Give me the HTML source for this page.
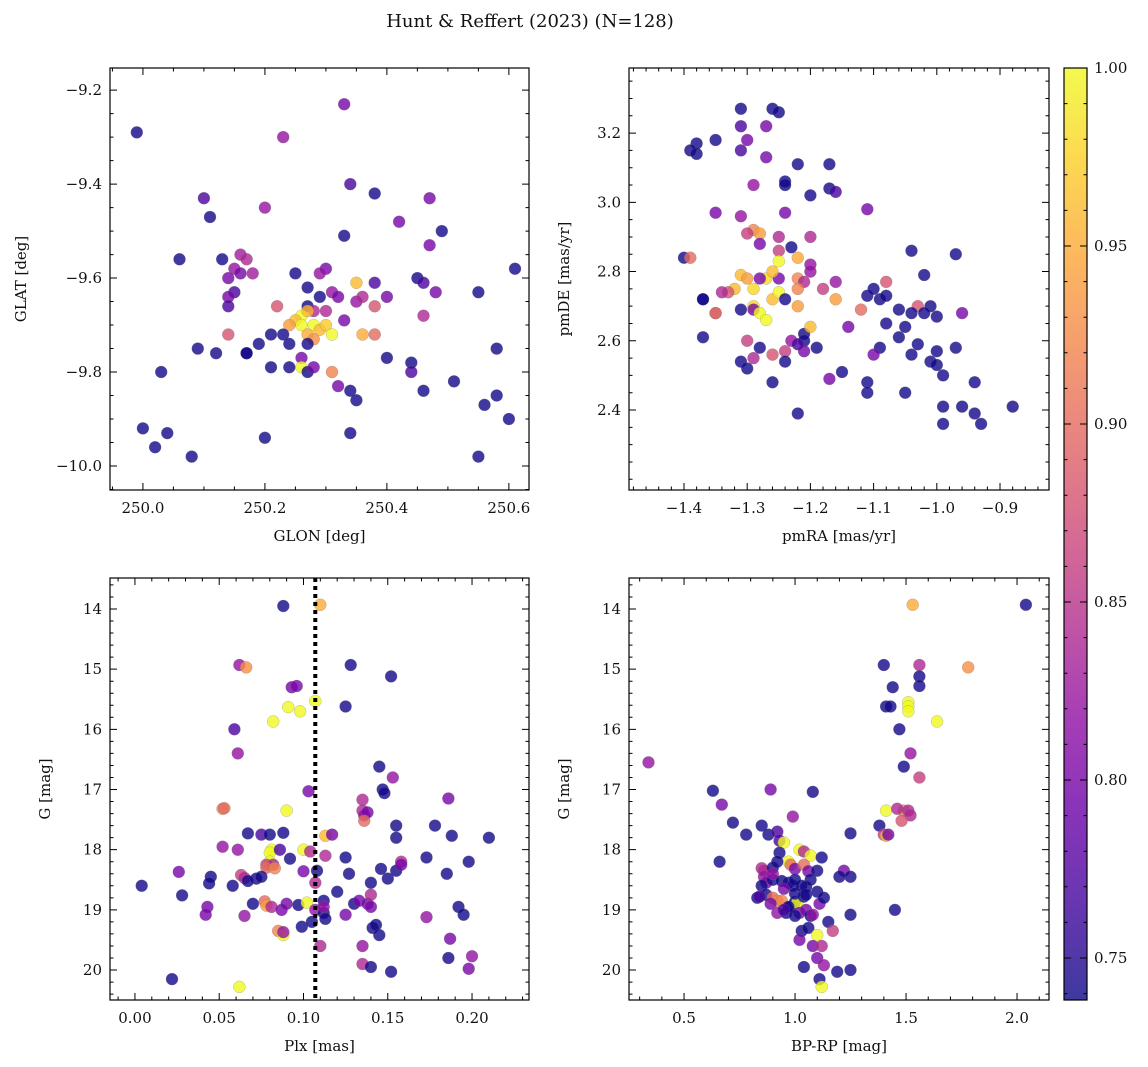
<!DOCTYPE html>
<html><head><meta charset="utf-8"><style>
body{margin:0;background:#fff}
svg{display:block;font-family:"DejaVu Serif","Liberation Serif",serif}
</style></head><body>
<svg id="fig" width="1148" height="1067" viewBox="0 0 1148 1067" xmlns="http://www.w3.org/2000/svg">
<rect width="1148" height="1067" fill="#fff"/>
<text x="530" y="27" text-anchor="middle" font-size="18" fill="#111">Hunt &amp; Reffert (2023) (N=128)</text>
<defs><linearGradient id="plasma" x1="0" y1="1" x2="0" y2="0">
<stop offset="0" stop-color="#0d0887"/><stop offset="0.1" stop-color="#41049d"/><stop offset="0.2" stop-color="#6a00a8"/><stop offset="0.3" stop-color="#8f0da4"/><stop offset="0.4" stop-color="#b12a90"/><stop offset="0.5" stop-color="#cc4778"/><stop offset="0.6" stop-color="#e16462"/><stop offset="0.7" stop-color="#f2844b"/><stop offset="0.8" stop-color="#fca636"/><stop offset="0.9" stop-color="#fcce25"/><stop offset="1" stop-color="#f0f921"/></linearGradient></defs>
</svg>
<script>
// ---- data ----
const glonGlat = [[249.99,-9.29,.74],[250.23,-9.30,.82],[250.33,-9.23,.80],[250.34,-9.40,.77],[250.38,-9.42,.74],[250.10,-9.43,.77],[250.11,-9.47,.74],[250.20,-9.45,.82],[250.47,-9.43,.80],[250.49,-9.50,.74],[250.42,-9.48,.80],[250.33,-9.51,.74],[250.47,-9.53,.80],[250.06,-9.56,.74],[250.13,-9.56,.74],[250.16,-9.55,.83],[250.17,-9.56,.84],[250.15,-9.58,.82],[250.16,-9.59,.80],[250.18,-9.59,.83],[250.14,-9.60,.80],[250.15,-9.63,.77],[250.14,-9.64,.80],[250.14,-9.66,.77],[250.14,-9.72,.88],[250.25,-9.59,.74],[250.30,-9.58,.80],[250.29,-9.59,.82],[250.35,-9.61,.96],[250.38,-9.61,.77],[250.27,-9.62,.74],[250.29,-9.64,.74],[250.31,-9.63,.82],[250.32,-9.64,.80],[250.35,-9.65,.82],[250.36,-9.64,.84],[250.38,-9.66,.88],[250.40,-9.64,.80],[250.45,-9.60,.74],[250.46,-9.61,.77],[250.48,-9.63,.80],[250.55,-9.63,.74],[250.61,-9.58,.74],[250.22,-9.66,.88],[250.27,-9.66,.74],[250.28,-9.67,.84],[250.30,-9.67,.84],[250.26,-9.68,1.0],[250.27,-9.67,.96],[250.25,-9.69,.96],[250.24,-9.70,.94],[250.26,-9.70,1.0],[250.28,-9.70,1.0],[250.29,-9.71,.96],[250.30,-9.70,.97],[250.31,-9.72,1.0],[250.27,-9.72,.95],[250.28,-9.73,.93],[250.33,-9.69,.80],[250.36,-9.72,.95],[250.38,-9.72,.90],[250.46,-9.68,.84],[250.21,-9.72,.74],[250.23,-9.72,.74],[250.24,-9.74,.74],[250.27,-9.74,.74],[250.19,-9.74,.74],[250.17,-9.76,.74],[250.12,-9.76,.74],[250.09,-9.75,.74],[250.21,-9.79,.74],[250.24,-9.79,.74],[250.26,-9.77,.80],[250.26,-9.79,1.0],[250.27,-9.80,.74],[250.28,-9.79,.80],[250.31,-9.80,.92],[250.32,-9.83,.80],[250.34,-9.84,.74],[250.35,-9.86,.74],[250.40,-9.77,.74],[250.44,-9.78,.74],[250.44,-9.80,.77],[250.46,-9.84,.74],[250.51,-9.82,.74],[250.58,-9.75,.74],[250.58,-9.85,.74],[250.56,-9.87,.74],[250.60,-9.90,.74],[250.03,-9.80,.74],[250.00,-9.92,.74],[250.04,-9.93,.74],[250.02,-9.96,.74],[250.08,-9.98,.74],[250.20,-9.94,.74],[250.34,-9.93,.74],[250.55,-9.98,.74],[250.17,-9.76,.74]];
const pmRaDe = [[-1.31,3.27,.74],[-1.26,3.27,.74],[-1.25,3.26,.74],[-1.31,3.22,.77],[-1.27,3.22,.80],[-1.38,3.17,.74],[-1.35,3.18,.74],[-1.39,3.15,.74],[-1.38,3.14,.74],[-1.30,3.18,.80],[-1.31,3.15,.77],[-1.27,3.13,.80],[-1.22,3.11,.74],[-1.17,3.11,.74],[-1.29,3.05,.82],[-1.24,3.06,.74],[-1.24,3.05,.74],[-1.17,3.04,.74],[-1.20,3.02,.74],[-1.16,3.03,.77],[-1.11,2.98,.80],[-1.35,2.97,.80],[-1.31,2.96,.82],[-1.24,2.97,.80],[-1.29,2.92,.92],[-1.30,2.91,.86],[-1.28,2.91,.94],[-1.25,2.90,.84],[-1.20,2.90,.84],[-1.28,2.88,.80],[-1.23,2.87,.74],[-1.25,2.86,.86],[-1.04,2.86,.74],[-0.97,2.85,.74],[-1.40,2.84,.74],[-1.39,2.84,.90],[-1.20,2.82,.82],[-1.25,2.83,1.0],[-1.22,2.84,.95],[-1.20,2.80,.82],[-1.27,2.78,.98],[-1.25,2.78,.80],[-1.22,2.78,.92],[-1.21,2.77,.84],[-1.18,2.75,.86],[-1.16,2.77,.82],[-1.08,2.77,.88],[-1.02,2.79,.74],[-1.01,2.70,.74],[-1.31,2.79,.96],[-1.30,2.78,.94],[-1.28,2.78,.80],[-1.26,2.80,.96],[-1.29,2.75,.98],[-1.32,2.75,.96],[-1.33,2.74,.88],[-1.34,2.74,.84],[-1.26,2.72,.96],[-1.25,2.74,1.0],[-1.24,2.72,.74],[-1.22,2.75,.92],[-1.22,2.70,.94],[-1.29,2.70,.98],[-1.29,2.69,.80],[-1.37,2.72,.74],[-1.37,2.72,.74],[-1.35,2.68,.96],[-1.35,2.68,.88],[-1.31,2.69,.74],[-1.28,2.68,1.0],[-1.27,2.66,1.0],[-1.16,2.72,.94],[-1.12,2.69,.90],[-1.09,2.72,.74],[-1.11,2.73,.74],[-1.10,2.75,.74],[-1.08,2.73,.74],[-1.06,2.69,.74],[-1.03,2.70,.88],[-1.02,2.68,.74],[-1.04,2.68,.74],[-1.00,2.67,.74],[-0.96,2.68,.80],[-1.08,2.65,.74],[-1.06,2.61,.74],[-1.05,2.64,.74],[-1.37,2.61,.74],[-1.30,2.60,.86],[-1.28,2.58,.74],[-1.23,2.60,.82],[-1.21,2.62,.74],[-1.21,2.60,.74],[-1.19,2.58,.74],[-1.20,2.64,.96],[-1.21,2.57,.80],[-1.24,2.57,.86],[-1.22,2.59,.77],[-1.26,2.56,.88],[-1.29,2.55,.84],[-1.31,2.54,.74],[-1.30,2.52,.74],[-1.24,2.54,.74],[-1.14,2.64,.80],[-1.09,2.58,.74],[-1.10,2.56,.80],[-1.03,2.59,.74],[-1.00,2.57,.74],[-1.04,2.56,.74],[-0.97,2.58,.74],[-1.17,2.49,.80],[-1.11,2.48,.74],[-1.11,2.45,.74],[-1.26,2.48,.74],[-1.01,2.54,.74],[-1.00,2.53,.74],[-0.99,2.50,.74],[-1.05,2.45,.74],[-0.94,2.48,.74],[-1.22,2.39,.74],[-0.99,2.41,.74],[-0.96,2.41,.74],[-0.94,2.39,.74],[-0.88,2.41,.74],[-0.99,2.36,.74],[-0.93,2.36,.74],[-1.15,2.51,.74]];
const plxG = [[0.088,13.95,.74],[0.110,13.93,.95],[0.062,14.93,.82],[0.066,14.97,.93],[0.128,14.93,.74],[0.152,15.12,.74],[0.093,15.30,.80],[0.096,15.28,.80],[0.091,15.63,1.0],[0.098,15.70,1.0],[0.107,15.53,1.0],[0.125,15.62,.74],[0.082,15.87,1.0],[0.059,16.0,.77],[0.061,16.40,.82],[0.145,16.62,.74],[0.153,16.80,.82],[0.052,17.32,.92],[0.053,17.31,.90],[0.090,17.35,1.0],[0.147,17.00,.74],[0.148,17.06,.74],[0.103,17.03,.80],[0.135,17.17,.84],[0.113,17.77,.96],[0.135,17.35,.84],[0.136,17.43,.82],[0.138,17.38,.80],[0.136,17.52,.90],[0.155,17.60,.74],[0.155,17.80,.74],[0.186,17.15,.80],[0.178,17.60,.74],[0.188,17.77,.74],[0.210,17.80,.74],[0.052,17.95,.82],[0.067,17.73,.74],[0.075,17.75,.77],[0.080,17.75,.74],[0.088,17.72,.74],[0.081,18.0,1.0],[0.080,18.05,1.0],[0.080,18.2,1.0],[0.078,18.25,.86],[0.082,18.25,.84],[0.078,18.3,.90],[0.083,18.31,.92],[0.086,18.0,.77],[0.092,18.15,.74],[0.100,18.0,1.0],[0.104,18.03,.84],[0.113,18.10,.84],[0.117,17.75,.80],[0.125,18.13,.74],[0.108,18.35,.74],[0.100,18.36,.80],[0.061,18.0,.82],[0.063,18.42,.86],[0.065,18.47,.84],[0.072,18.48,.74],[0.075,18.45,.74],[0.067,18.52,.74],[0.058,18.60,.74],[0.045,18.45,.74],[0.044,18.56,.74],[0.004,18.60,.74],[0.026,18.37,.80],[0.028,18.76,.74],[0.043,18.95,.80],[0.042,19.08,.80],[0.022,20.15,.74],[0.062,20.28,1.0],[0.065,19.10,.82],[0.070,18.90,.74],[0.077,18.86,.90],[0.078,18.93,.94],[0.081,18.95,.84],[0.087,19.00,.80],[0.090,18.90,.80],[0.097,18.92,.74],[0.085,19.35,.92],[0.088,19.42,1.0],[0.088,19.37,.82],[0.099,19.28,.74],[0.102,18.88,1.0],[0.105,19.20,.74],[0.107,18.55,.84],[0.107,19.0,.82],[0.110,19.60,.84],[0.112,19.05,.74],[0.113,19.15,.74],[0.112,18.85,.74],[0.112,18.95,.82],[0.120,18.70,.74],[0.125,19.08,.80],[0.130,18.90,.74],[0.133,18.85,.80],[0.138,18.90,.80],[0.140,18.75,.84],[0.140,18.95,.80],[0.135,19.60,.82],[0.135,19.90,.84],[0.141,19.30,.74],[0.143,19.25,.74],[0.145,19.42,.74],[0.152,20.03,.74],[0.140,19.95,.74],[0.146,18.32,.74],[0.150,18.48,.74],[0.155,18.35,.74],[0.158,18.20,.84],[0.158,18.25,.80],[0.173,18.13,.74],[0.173,19.12,.82],[0.185,18.40,.74],[0.186,19.80,.74],[0.187,19.48,.80],[0.192,18.95,.74],[0.195,19.08,.74],[0.198,19.98,.80],[0.200,19.77,.82],[0.198,18.20,.74],[0.140,18.55,.74],[0.127,18.40,.74]];
const colorG = [[1.53,13.93,.95],[2.04,13.93,.74],[1.40,14.93,.74],[1.56,14.93,.84],[1.78,14.97,.93],[1.56,15.12,.74],[1.56,15.28,.74],[1.44,15.30,.74],[1.51,15.55,1.0],[1.51,15.62,1.0],[1.51,15.70,1.0],[1.41,15.62,.74],[1.43,15.62,.74],[1.64,15.87,1.0],[1.47,16.0,.74],[1.52,16.40,.82],[0.34,16.55,.82],[1.49,16.62,.74],[1.56,16.80,.86],[0.63,17.02,.74],[0.89,17.00,.80],[1.08,17.04,.74],[0.67,17.25,.80],[0.72,17.55,.74],[1.41,17.35,1.0],[1.49,17.35,.92],[1.46,17.32,.84],[1.51,17.35,.84],[1.52,17.43,.84],[1.48,17.52,.88],[0.78,17.75,.74],[0.99,17.45,.82],[1.25,17.73,.74],[1.38,17.60,.74],[1.40,17.75,.86],[1.41,17.77,.96],[1.42,17.75,.80],[0.66,18.20,.74],[0.85,17.60,.74],[0.88,17.75,.74],[0.92,17.70,.77],[0.93,17.85,.77],[0.95,17.88,1.0],[0.93,18.05,.74],[1.02,18.0,1.0],[1.04,18.03,.84],[1.07,18.10,1.0],[1.12,18.13,.74],[0.97,18.20,1.0],[0.98,18.25,.90],[0.85,18.31,.84],[0.86,18.35,.84],[0.90,18.30,.74],[0.92,18.20,.74],[1.00,18.32,.80],[1.04,18.25,.90],[1.06,18.36,.80],[1.10,18.35,.74],[1.22,18.35,.80],[1.25,18.45,.74],[1.20,18.45,.74],[0.86,18.45,.82],[0.87,18.55,.80],[0.90,18.50,.74],[0.94,18.52,.74],[0.97,18.55,.74],[0.99,18.60,.74],[0.95,18.65,.80],[0.85,18.60,.74],[0.87,18.75,.74],[0.83,18.80,.74],[0.84,18.78,.77],[0.90,18.80,.90],[0.92,18.85,.92],[0.94,18.85,.92],[0.89,18.90,.80],[0.92,19.05,.82],[0.96,19.05,.74],[0.98,18.95,.74],[1.00,18.87,.74],[1.01,18.88,1.0],[1.02,19.05,.80],[1.05,19.0,.80],[1.04,18.78,.74],[1.07,19.10,.74],[1.08,19.08,.82],[1.11,18.90,.80],[1.05,18.62,.74],[1.10,18.70,.74],[1.13,18.80,.74],[1.15,19.20,.74],[1.03,19.35,.74],[1.06,19.30,.74],[1.10,19.42,1.0],[1.02,19.50,.80],[1.08,19.60,.80],[1.12,19.60,.84],[1.10,19.80,.80],[1.13,19.92,.82],[1.11,20.15,.74],[1.12,20.28,1.0],[1.19,20.03,.74],[1.25,20.0,.74],[1.04,19.95,.74],[1.25,19.08,.74],[1.45,19.00,.74],[1.17,19.35,.86],[1.00,19.10,.74],[0.97,18.95,.74],[1.00,18.73,.74],[0.95,19.00,.77],[1.07,18.50,.74],[1.03,18.60,.74],[1.05,18.75,.74],[1.00,18.50,.74],[0.90,18.40,.82]];
const plxRef = [0.107];
const cbTicks = [0.75,0.80,0.85,0.90,0.95,1.00];
const cbRange = [0.7382,1.0];

// ---- helpers ----
const NS='http://www.w3.org/2000/svg';
const svg=document.getElementById('fig');
function mk(tag,attrs,parent){const e=document.createElementNS(NS,tag);for(const k in attrs)e.setAttribute(k,attrs[k]);(parent||svg).appendChild(e);return e;}
const stops=[[13,8,135],[65,4,157],[106,0,168],[143,13,164],[177,42,144],[204,71,120],[225,100,98],[242,132,75],[252,166,54],[252,206,37],[240,249,33]];
function plasma(v){let t=(v-cbRange[0])/(cbRange[1]-cbRange[0]);t=Math.max(0,Math.min(1,t))*10;const i=Math.min(9,Math.floor(t)),f=t-i;const a=stops[i],b=stops[i+1];return 'rgb('+a.map((c,k)=>Math.round(c+(b[k]-c)*f)).join(',')+')';}

const panels=[
 {name:'glon-glat',data:glonGlat,L:110,R:529,T:68,B:490,x0:249.946,x1:250.633,y0:-10.051,y1:-9.153,inv:false,
  xMaj:[250.0,250.2,250.4,250.6],xMin:0.05,yMaj:[-10.0,-9.8,-9.6,-9.4,-9.2],yMin:0.05,xd:1,yd:1,xl:'GLON [deg]',yl:'GLAT [deg]'},
 {name:'pmra-pmde',data:pmRaDe,L:629,R:1049,T:68,B:490,x0:-1.487,x1:-0.8225,y0:2.169,y1:3.388,inv:false,
  xMaj:[-1.4,-1.3,-1.2,-1.1,-1.0,-0.9],xMin:0.02,yMaj:[2.4,2.6,2.8,3.0,3.2],yMin:0.05,xd:1,yd:1,xl:'pmRA [mas/yr]',yl:'pmDE [mas/yr]'},
 {name:'plx-g',data:plxG,L:110,R:529,T:578,B:1000,x0:-0.0148,x1:0.2338,y0:13.485,y1:20.498,inv:true,
  xMaj:[0,0.05,0.10,0.15,0.20],xMin:0.01,yMaj:[14,15,16,17,18,19,20],yMin:0.2,xd:2,yd:0,xl:'Plx [mas]',yl:'G [mag]'},
 {name:'bprp-g',data:colorG,L:629,R:1049,T:578,B:1000,x0:0.252,x1:2.144,y0:13.485,y1:20.498,inv:true,
  xMaj:[0.5,1.0,1.5,2.0],xMin:0.1,yMaj:[14,15,16,17,18,19,20],yMin:0.2,xd:1,yd:0,xl:'BP-RP [mag]',yl:'G [mag]'}
];
function fmt(v,d){return v.toFixed(d).replace('-','\u2212');}

panels.forEach(p=>{
  const g=mk('g',{});
  
  
  const sx=v=>p.L+(v-p.x0)/(p.x1-p.x0)*(p.R-p.L);
  const sy=v=>p.inv? p.T+(v-p.y0)/(p.y1-p.y0)*(p.B-p.T) : p.B-(v-p.y0)/(p.y1-p.y0)*(p.B-p.T);
  const pts=mk('g',{},g);
  
  
  p.data.forEach(d=>{
    const c=mk('circle',{cx:sx(d[0]).toFixed(1),cy:sy(d[1]).toFixed(1),r:6,fill:plasma(d[2]),'fill-opacity':0.8,stroke:'#777','stroke-width':0.4,'stroke-opacity':0.6},pts);
    
    
  });
  if(p.name==='plx-g'){
    const ln=mk('line',{x1:sx(plxRef[0]),x2:sx(plxRef[0]),y1:p.T,y2:p.B,stroke:'#000','stroke-width':4,'stroke-dasharray':'4,4'},g);
    
    
  }
  const fr=mk('rect',{x:p.L,y:p.T,width:p.R-p.L,height:p.B-p.T,fill:'none',stroke:'#000','stroke-width':1.2},g);
  
  
  let path='';
  const xs=Math.ceil(Math.min(p.x0,p.x1)/p.xMin), xe=Math.floor(Math.max(p.x0,p.x1)/p.xMin);
  for(let i=xs;i<=xe;i++){const x=sx(i*p.xMin);path+=`M${x},${p.B}v-3.5M${x},${p.T}v3.5`;}
  const ys=Math.ceil(p.y0/p.yMin), ye=Math.floor(p.y1/p.yMin);
  for(let i=ys;i<=ye;i++){const y=sy(i*p.yMin);path+=`M${p.L},${y}h3.5M${p.R},${y}h-3.5`;}
  p.xMaj.forEach(v=>{const x=sx(v);path+=`M${x},${p.B}v-7M${x},${p.T}v7`;
    const t=mk('text',{x:x,y:p.B+23,'text-anchor':'middle','font-size':15,fill:'#111'},g);t.textContent=fmt(v,p.xd);
    
    });
  p.yMaj.forEach(v=>{const y=sy(v);path+=`M${p.L},${y}h7M${p.R},${y}h-7`;
    const t=mk('text',{x:p.L-8,y:y+5,'text-anchor':'end','font-size':15,fill:'#111'},g);t.textContent=fmt(v,p.yd);
    
    });
  mk('path',{d:path,stroke:'#000','stroke-width':1,fill:'none'},g);
  const xl=mk('text',{x:(p.L+p.R)/2,y:p.B+51,'text-anchor':'middle','font-size':15,fill:'#111'},g);xl.textContent=p.xl;
  
  
  const yx=p.L-(p.name==='glon-glat'?84:60);
  const yl=mk('text',{x:yx,y:(p.T+p.B)/2,'text-anchor':'middle','font-size':15,fill:'#111',transform:`rotate(-90 ${yx} ${(p.T+p.B)/2})`},g);yl.textContent=p.yl;
  
  
});

// colorbar
const cb=mk('g',{});


const cL=1064,cR=1087,cT=68,cB=1000;
mk('rect',{x:cL,y:cT,width:cR-cL,height:cB-cT,fill:'url(#plasma)','fill-opacity':0.8,stroke:'#000','stroke-width':1.2},cb);
const cy=v=>cB-(v-cbRange[0])/(cbRange[1]-cbRange[0])*(cB-cT);
let cp='';
for(let i=Math.ceil(cbRange[0]*100);i<=100;i++){const y=cy(i/100);cp+=`M${cR},${y}h-3.5M${cL},${y}h3.5`;}
cbTicks.forEach(v=>{const y=cy(v);cp+=`M${cR},${y}h-7M${cL},${y}h7`;
  const t=mk('text',{x:cR+7,y:y+5,'font-size':15,fill:'#111'},cb);t.textContent=v.toFixed(2);
  
  });
mk('path',{d:cp,stroke:'#000','stroke-width':1,fill:'none'},cb);
</script>
</body></html>
